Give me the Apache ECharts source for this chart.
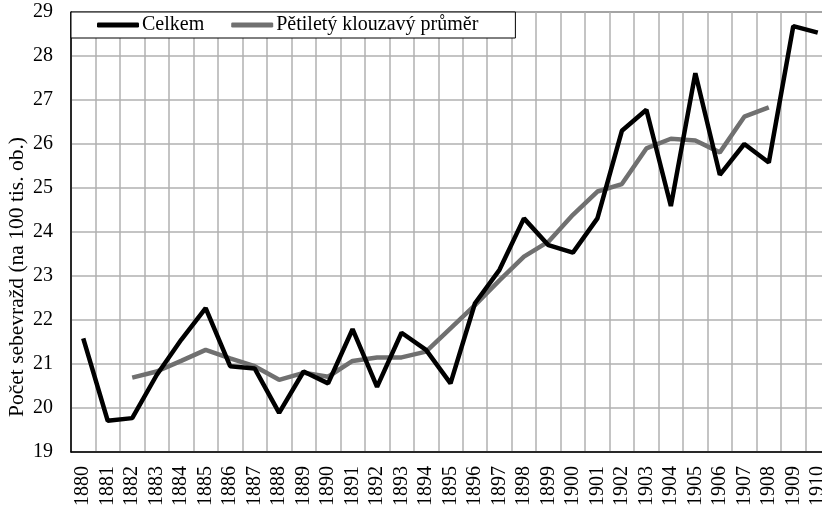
<!DOCTYPE html>
<html>
<head>
<meta charset="utf-8">
<script src="https://cdn.jsdelivr.net/npm/echarts@6/dist/echarts.min.js"></script>
<style>html,body{margin:0;padding:0;background:#fff;}#c{width:822px;height:508px;}</style>
</head>
<body>
<div id="c"></div>
<script>
const years = ['1880','1881','1882','1883','1884','1885','1886','1887','1888','1889','1890','1891','1892','1893','1894','1895','1896','1897','1898','1899','1900','1901','1902','1903','1904','1905','1906','1907','1908','1909','1910'];
const celkem = [21.58,19.71,19.77,20.75,21.55,22.27,20.95,20.9,19.89,20.83,20.56,21.79,20.48,21.71,21.32,20.56,22.38,23.14,24.31,23.7,23.53,24.31,26.3,26.78,24.59,27.61,25.3,26.0,25.58,28.68,28.53];
const prumer = [null,null,20.69,20.83,21.07,21.32,21.13,20.95,20.64,20.8,20.71,21.07,21.15,21.15,21.28,21.81,22.34,22.9,23.44,23.78,24.39,24.92,25.09,25.9,26.12,26.08,25.81,26.62,26.83,null,null];
const yTicks = {min:19, max:29, interval:1};
const yName = 'Počet sebevražd (na 100 tis. ob.)';
const font = '"Liberation Serif","Times New Roman",serif';

const chart = echarts.init(document.getElementById('c'), null, {renderer:'canvas'});
chart.setOption({
  animation:false,
  backgroundColor:'#fff',
  grid:{left:71, top:12, width:759, height:440, show:true, borderColor:'#000', borderWidth:1, backgroundColor:'transparent', outerBoundsMode:'none', containLabel:false},
  legend:{
    left:71, top:12,
    padding:[3,37,3,26],
    itemGap:27,
    itemWidth:42, itemHeight:5,
    backgroundColor:'#fff', borderColor:'#000', borderWidth:1,
    textStyle:{fontFamily:font, fontSize:20, color:'#000', padding:[0,0,0,-2]},
    data:[{name:'Celkem', icon:'roundRect', itemStyle:{color:'#000'}},{name:'Pětiletý klouzavý průměr', icon:'roundRect', itemStyle:{color:'#707070'}}]
  },
  graphic:[{
    type:'text', x:17, y:277, rotation:Math.PI/2,
    style:{text:yName, font:'21.5px ' + font, fill:'#000', align:'center', verticalAlign:'middle'}
  }],
  xAxis:{
    type:'category', data:years, boundaryGap:true,
    axisLine:{lineStyle:{color:'#000', width:1.5}},
    axisTick:{show:false},
    axisLabel:{rotate:90, interval:0, fontFamily:font, fontSize:20, color:'#000', margin:14},
    splitLine:{show:true, interval:0, lineStyle:{color:'#b0b0b0', width:1.5}}
  },
  yAxis:{
    type:'value', min:yTicks.min, max:yTicks.max, interval:yTicks.interval,
    axisLine:{show:true, lineStyle:{color:'#000', width:1.5}},
    axisTick:{show:false},
    axisLabel:{fontFamily:font, fontSize:20, color:'#000', margin:18},
    splitLine:{show:true, lineStyle:{color:'#b0b0b0', width:1.5}}
  },
  series:[
    {name:'Celkem', type:'line', data:celkem, symbol:'none', lineStyle:{color:'#000', width:4.5}, itemStyle:{color:'#000'}, z:3},
    {name:'Pětiletý klouzavý průměr', type:'line', data:prumer, symbol:'none', connectNulls:false, lineStyle:{color:'#707070', width:4.5}, itemStyle:{color:'#707070'}, z:2}
  ]
});
</script>
</body>
</html>
